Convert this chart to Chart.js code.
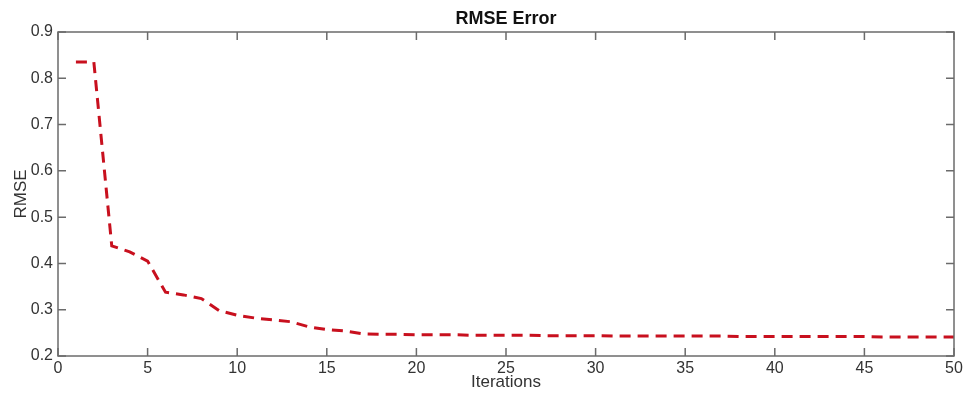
<!DOCTYPE html>
<html>
<head>
<meta charset="utf-8">
<script src="https://cdn.jsdelivr.net/npm/chart.js@4/dist/chart.umd.min.js"></script>
<style>
  body { margin: 0; background: #fff; }
</style>
</head>
<body>
<canvas id="myChart" width="966" height="394"></canvas>
<script>
// values
const iterations = [1, 2, 3, 4, 5, 6, 7, 8, 9, 10, 11, 12, 13, 14, 15, 16, 17, 18, 19, 20,
  21, 22, 23, 24, 25, 26, 27, 28, 29, 30, 31, 32, 33, 34, 35, 36, 37, 38, 39, 40,
  41, 42, 43, 44, 45, 46, 47, 48, 49, 50];
const rmse = [0.835, 0.835, 0.438, 0.425, 0.405, 0.338, 0.332, 0.324, 0.298, 0.288,
  0.282, 0.278, 0.274, 0.263, 0.257, 0.254, 0.248, 0.247, 0.247, 0.246,
  0.246, 0.246, 0.245, 0.245, 0.245, 0.245, 0.244, 0.244, 0.244, 0.244,
  0.243, 0.243, 0.243, 0.243, 0.243, 0.243, 0.243, 0.242, 0.242, 0.242,
  0.242, 0.242, 0.242, 0.242, 0.242, 0.241, 0.241, 0.241, 0.241, 0.241];
const xTicks = [0, 5, 10, 15, 20, 25, 30, 35, 40, 45, 50];
const yTicks = [0.2, 0.3, 0.4, 0.5, 0.6, 0.7, 0.8, 0.9];
const titleText = "RMSE Error";

const font = "'Liberation Sans', Arial, Helvetica, sans-serif";

// matlab style box with inward ticks, title centred over the axes
const boxPlugin = {
  id: "box",
  afterDraw(chart) {
    const { ctx, chartArea: a, scales } = chart;
    const len = 8;
    ctx.save();
    ctx.strokeStyle = "#6b6b6b";
    ctx.lineWidth = 1.5;
    ctx.strokeRect(a.left, a.top, a.right - a.left, a.bottom - a.top);
    ctx.beginPath();
    xTicks.forEach((v) => {
      const px = scales.x.getPixelForValue(v);
      ctx.moveTo(px, a.bottom); ctx.lineTo(px, a.bottom - len);
      ctx.moveTo(px, a.top); ctx.lineTo(px, a.top + len);
    });
    yTicks.forEach((v) => {
      const py = scales.y.getPixelForValue(v);
      ctx.moveTo(a.left, py); ctx.lineTo(a.left + len, py);
      ctx.moveTo(a.right, py); ctx.lineTo(a.right - len, py);
    });
    ctx.stroke();

    ctx.fillStyle = "#111";
    ctx.font = "bold 18px " + font;
    ctx.textAlign = "center";
    ctx.textBaseline = "middle";
    ctx.fillText(titleText, (a.left + a.right) / 2, 19);
    ctx.restore();
  },
};

const ctx = document.getElementById("myChart").getContext("2d");
const chart = new Chart(ctx, {
  type: "line",
  data: {
    datasets: [
      {
        label: "RMSE",
        data: iterations.map((it, i) => ({ x: it, y: rmse[i] })),
        borderColor: "#c8101e",
        borderWidth: 3,
        borderDash: [11, 7],
        pointRadius: 0,
        fill: false,
        tension: 0,
      },
    ],
  },
  options: {
    responsive: false,
    animation: false,
    layout: { padding: { left: 0, right: 12, top: 32, bottom: 0 } },
    plugins: {
      legend: { display: false },
      tooltip: { enabled: false },
      title: { display: false },
    },
    scales: {
      x: {
        type: "linear",
        min: 0,
        max: 50,
        afterBuildTicks: (s) => { s.ticks = xTicks.map((v) => ({ value: v })); },
        afterFit: (s) => { s.height = 38; },
        grid: { display: false, drawTicks: false },
        border: { display: false },
        ticks: {
          color: "#333",
          padding: 3,
          maxRotation: 0,
          font: { family: font, size: 16 },
        },
        title: {
          display: true,
          text: "Iterations",
          color: "#333",
          padding: { top: 0, bottom: 1 },
          font: { family: font, size: 17 },
        },
      },
      y: {
        min: 0.2,
        max: 0.9,
        afterBuildTicks: (s) => { s.ticks = yTicks.map((v) => ({ value: v })); },
        afterFit: (s) => { s.width = 58; },
        grid: { display: false, drawTicks: false },
        border: { display: false },
        ticks: {
          color: "#333",
          padding: 5,
          font: { family: font, size: 16 },
          callback: (v) => v.toFixed(1),
        },
        title: {
          display: true,
          text: "RMSE",
          color: "#333",
          padding: { top: 11, bottom: 0 },
          font: { family: font, size: 17 },
        },
      },
    },
  },
  plugins: [boxPlugin],
});
</script>
</body>
</html>
